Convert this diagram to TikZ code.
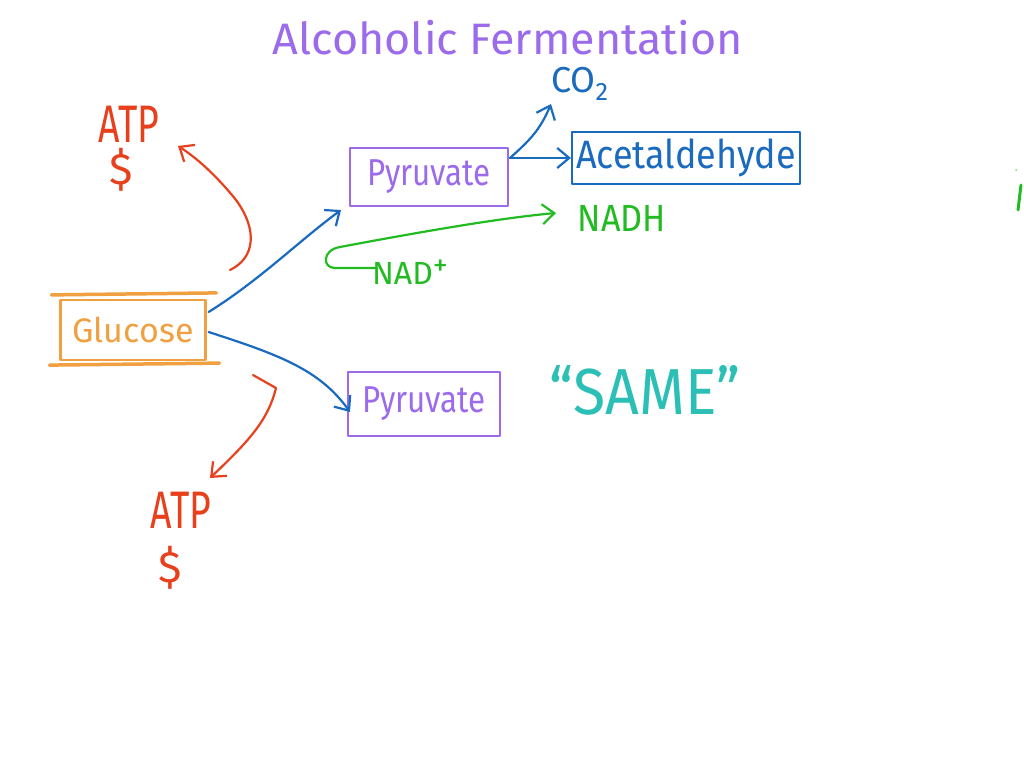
\documentclass[tikz,border=0pt]{standalone}
\usepackage{fontspec}
\setmainfont{Fira Sans}
\usetikzlibrary{arrows.meta}
\definecolor{cpurple}{HTML}{9B6BEB}
\definecolor{cblue}{HTML}{1A6BC0}
\definecolor{cgreen}{HTML}{22BB22}
\definecolor{corange}{HTML}{F0A040}
\definecolor{cred}{HTML}{E8401C}
\definecolor{ccyan}{HTML}{2BBFB5}
\tikzset{
  hand/.style={line width=2.2pt, line cap=round, line join=round},
  arr/.style={hand, -{Straight Barb[length=12pt,width=20pt]}},
  pbox/.style={draw=cpurple, text=cpurple, hand, inner sep=0pt},
  lbl/.style={inner sep=0pt, anchor=center},
}
\begin{document}
\begin{tikzpicture}[x=1pt,y=-1pt]
\useasboundingbox[fill=white] (0,0) rectangle (1024,768);
% title
\node[lbl, text=cpurple, font=\fontsize{44}{44}\selectfont] (title) at (508,38) {\scalebox{1.02}[1]{Alcoholic Fermentation}};
% top pyruvate branch
\node[pbox, minimum width=158pt, minimum height=58pt, font=\fontsize{34}{34}\selectfont] (pyr1) at (429,177) {\scalebox{0.92}[1.1]{Pyruvate}};
\node[draw=cblue, text=cblue, hand, inner sep=0pt, minimum width=228pt, minimum height=52pt, font=\fontsize{36}{36}\selectfont] (acet) at (686,158) {\scalebox{1}[1.1]{Acetaldehyde}};
\node[lbl, text=cblue, font=\fontsize{36}{36}\selectfont] (co2) at (580,84) {CO\textsubscript{2}};
\node[lbl, text=cgreen, font=\fontsize{36}{36}\selectfont] (nadh) at (622,218) {\scalebox{0.95}[1.05]{NADH}};
\node[lbl, text=cgreen, font=\fontsize{32}{32}\selectfont] (nadp) at (410,272) {NAD\raisebox{9pt}{\fontsize{30}{30}\selectfont +}};
\coordinate (pyrout) at (510,158);
\draw[arr, cblue] (pyrout) -- (acet.west);
\draw[arr, cblue] (pyrout) .. controls (530,140) and (540,130) .. (551,104);
\coordinate (nadstart) at (376,268);
\draw[arr, cgreen] (nadstart) -- (335,268) .. controls (322,268) and (322,250) .. (340,247) .. controls (420,232) and (500,218) .. (556,213);
% glucose
\node[draw=corange, text=corange, hand, inner sep=0pt, minimum width=145pt, minimum height=60pt, font=\fontsize{34}{34}\selectfont] (glu) at (133,330) {Glucose};
\draw[corange, line width=3.5pt, line cap=round] (glu.north west) ++(-8,-4) -- ++(165,-2);
\draw[corange, line width=3.5pt, line cap=round] (glu.south west) ++(-10,4) -- ++(170,-2);
% bottom pyruvate
\node[pbox, minimum width=152pt, minimum height=64pt, font=\fontsize{34}{34}\selectfont] (pyr2) at (424,404) {\scalebox{0.92}[1.1]{Pyruvate}};
\node[lbl, text=ccyan, font=\fontsize{62}{62}\selectfont] (same) at (645,390) {\scalebox{0.95}[1.05]{``SAME''}};
% glucose arrows
\draw[arr, cblue] (glu.east) ++(2,-18) .. controls (260,280) and (300,240) .. (341,210);
\draw[arr, cblue] (glu.east) ++(2,2) .. controls (280,355) and (320,370) .. (350,412);
% ATP top
\node[lbl, text=cred, font=\fontsize{44}{44}\selectfont] (atp1) at (129,124) {\scalebox{0.85}[1.2]{ATP}};
\node[lbl, text=cred, font=\fontsize{44}{44}\selectfont] (usd1) at (121,170) {\$};
\draw[arr, cred] (230,270) .. controls (255,258) and (258,230) .. (236,200) .. controls (220,180) and (200,160) .. (178,146);
% ATP bottom
\node[lbl, text=cred, font=\fontsize{44}{44}\selectfont] (atp2) at (181,510) {\scalebox{0.85}[1.2]{ATP}};
\node[lbl, text=cred, font=\fontsize{44}{44}\selectfont] (usd2) at (170,568) {\$};
\draw[arr, cred] (253,375) -- (276,388) .. controls (268,420) and (250,440) .. (210,478);
% partial mark at right edge
\draw[cgreen, line width=3pt, line cap=round] (1021,185) -- (1018,210);
\fill[cgreen!60] (1016,170) circle (1pt);
\end{tikzpicture}
\end{document}
